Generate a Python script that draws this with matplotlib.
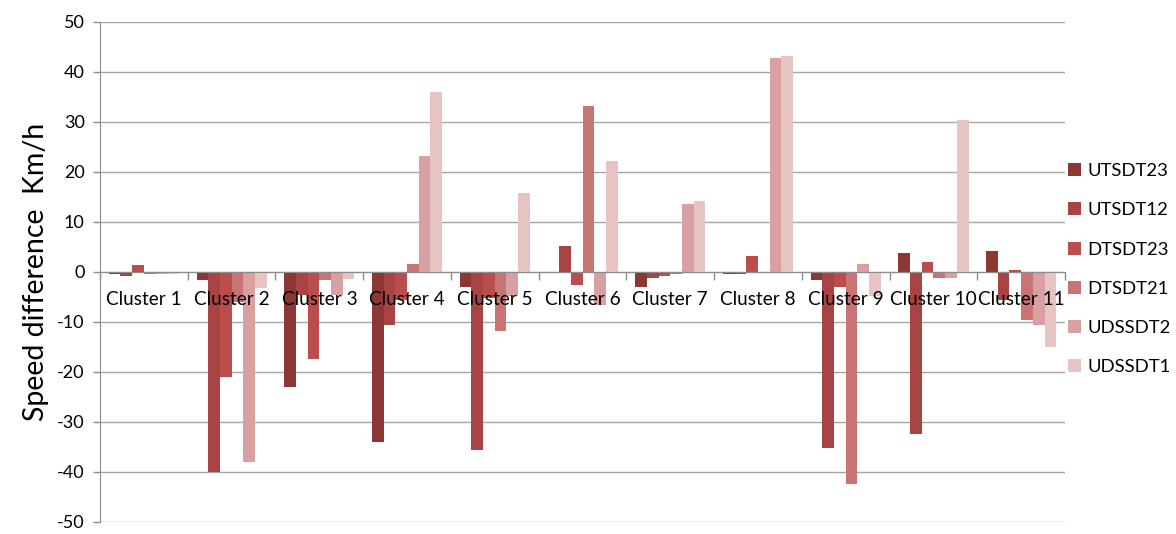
import numpy as np
import matplotlib
matplotlib.use("Agg")
import matplotlib.pyplot as plt

plt.rcParams['font.family'] = ['Lato', 'DejaVu Sans']
plt.rcParams['axes.unicode_minus'] = False

clusters = ["Cluster 1", "Cluster 2", "Cluster 3", "Cluster 4", "Cluster 5", "Cluster 6",
            "Cluster 7", "Cluster 8", "Cluster 9", "Cluster 10", "Cluster 11"]

series_names = ["UTSDT23", "UTSDT12", "DTSDT23", "DTSDT21", "UDSSDT2", "UDSSDT1"]

UTSDT23 = [-0.3, -1.5, -23.0, -34.0, -2.9, -0.2, -2.9, -0.3, -1.6, 3.9, 4.2]
UTSDT12 = [-0.8, -40.0, -4.6, -10.5, -35.5, 5.2, -1.1, -0.4, -35.2, -32.3, -5.5]
DTSDT23 = [1.4, -21.0, -17.3, -5.5, -5.2, -2.6, -0.7, 3.3, -2.9, 2.1, 0.5]
DTSDT21 = [-0.4, -6.0, -1.6, 1.7, -11.8, 33.3, -0.3, -0.1, -42.4, -1.1, -9.5]
UDSSDT2 = [-0.3, -38.0, -4.6, 23.3, -4.8, -6.5, 13.6, 42.8, 1.7, -1.1, -10.5]
UDSSDT1 = [-0.3, -3.1, -1.3, 36.0, 15.8, 22.3, 14.2, 43.2, -4.8, 30.4, -15.0]

y_ticks = [-50, -40, -30, -20, -10, 0, 10, 20, 30, 40, 50]

colors = ["#8c3636", "#a84444", "#bb4e4c", "#c97474", "#d8a0a0", "#e6c4c4"]

data = [UTSDT23, UTSDT12, DTSDT23, DTSDT21, UDSSDT2, UDSSDT1]

fig = plt.figure(figsize=(11.76, 5.34), dpi=100)
ax = fig.add_axes([100 / 1176, 1 - 522 / 534, 965 / 1176, 500 / 534])

n_series = len(data)
n_cat = len(clusters)
bar_w = 1.0 / (n_series + 1.5)
x = np.arange(n_cat)

for i, (vals, name, col) in enumerate(zip(data, series_names, colors)):
    offs = (i - (n_series - 1) / 2) * bar_w
    ax.bar(x + offs, vals, width=bar_w, color=col, label=name, zorder=3,
           edgecolor="none")

ax.set_xlim(-0.5, n_cat - 0.5)
ax.set_ylim(-50, 50)

ax.set_yticks(y_ticks)
ax.yaxis.grid(True, color="#a6a6a6", linewidth=1.0, zorder=0)
ax.set_axisbelow(True)

# category boundaries as tick marks
ax.set_xticks(np.arange(n_cat + 1) - 0.5)
ax.set_xticklabels([])
ax.tick_params(axis="x", which="major", direction="out", length=6, width=1, color="#8c8c8c")
ax.tick_params(axis="y", direction="out", length=5, width=1, color="#8c8c8c",
               labelsize=13, pad=6)

# category names sit under the zero line, drawn over the bars
for xi, name in zip(x, clusters):
    ax.annotate(name, xy=(xi, 0), xytext=(0, -19), textcoords="offset pixels",
                ha="center", va="top", fontsize=13.7, zorder=6, annotation_clip=False)

ax.spines["bottom"].set_position(("data", 0))
ax.spines["bottom"].set_color("#8c8c8c")
ax.spines["bottom"].set_zorder(4)
ax.spines["left"].set_color("#8c8c8c")
ax.spines["top"].set_visible(False)
ax.spines["right"].set_visible(False)

ax.set_ylabel("Speed difference  Km/h", fontsize=20.5, labelpad=6)

leg = ax.legend(loc="upper left", bbox_to_anchor=(1068 / 1176, 1 - 163 / 534),
                bbox_transform=fig.transFigure, frameon=False, fontsize=13.3,
                handlelength=0.7, handleheight=0.7, handletextpad=0.33,
                labelspacing=1.26, borderaxespad=0, borderpad=0)

fig.savefig("out.png", dpi=100)
